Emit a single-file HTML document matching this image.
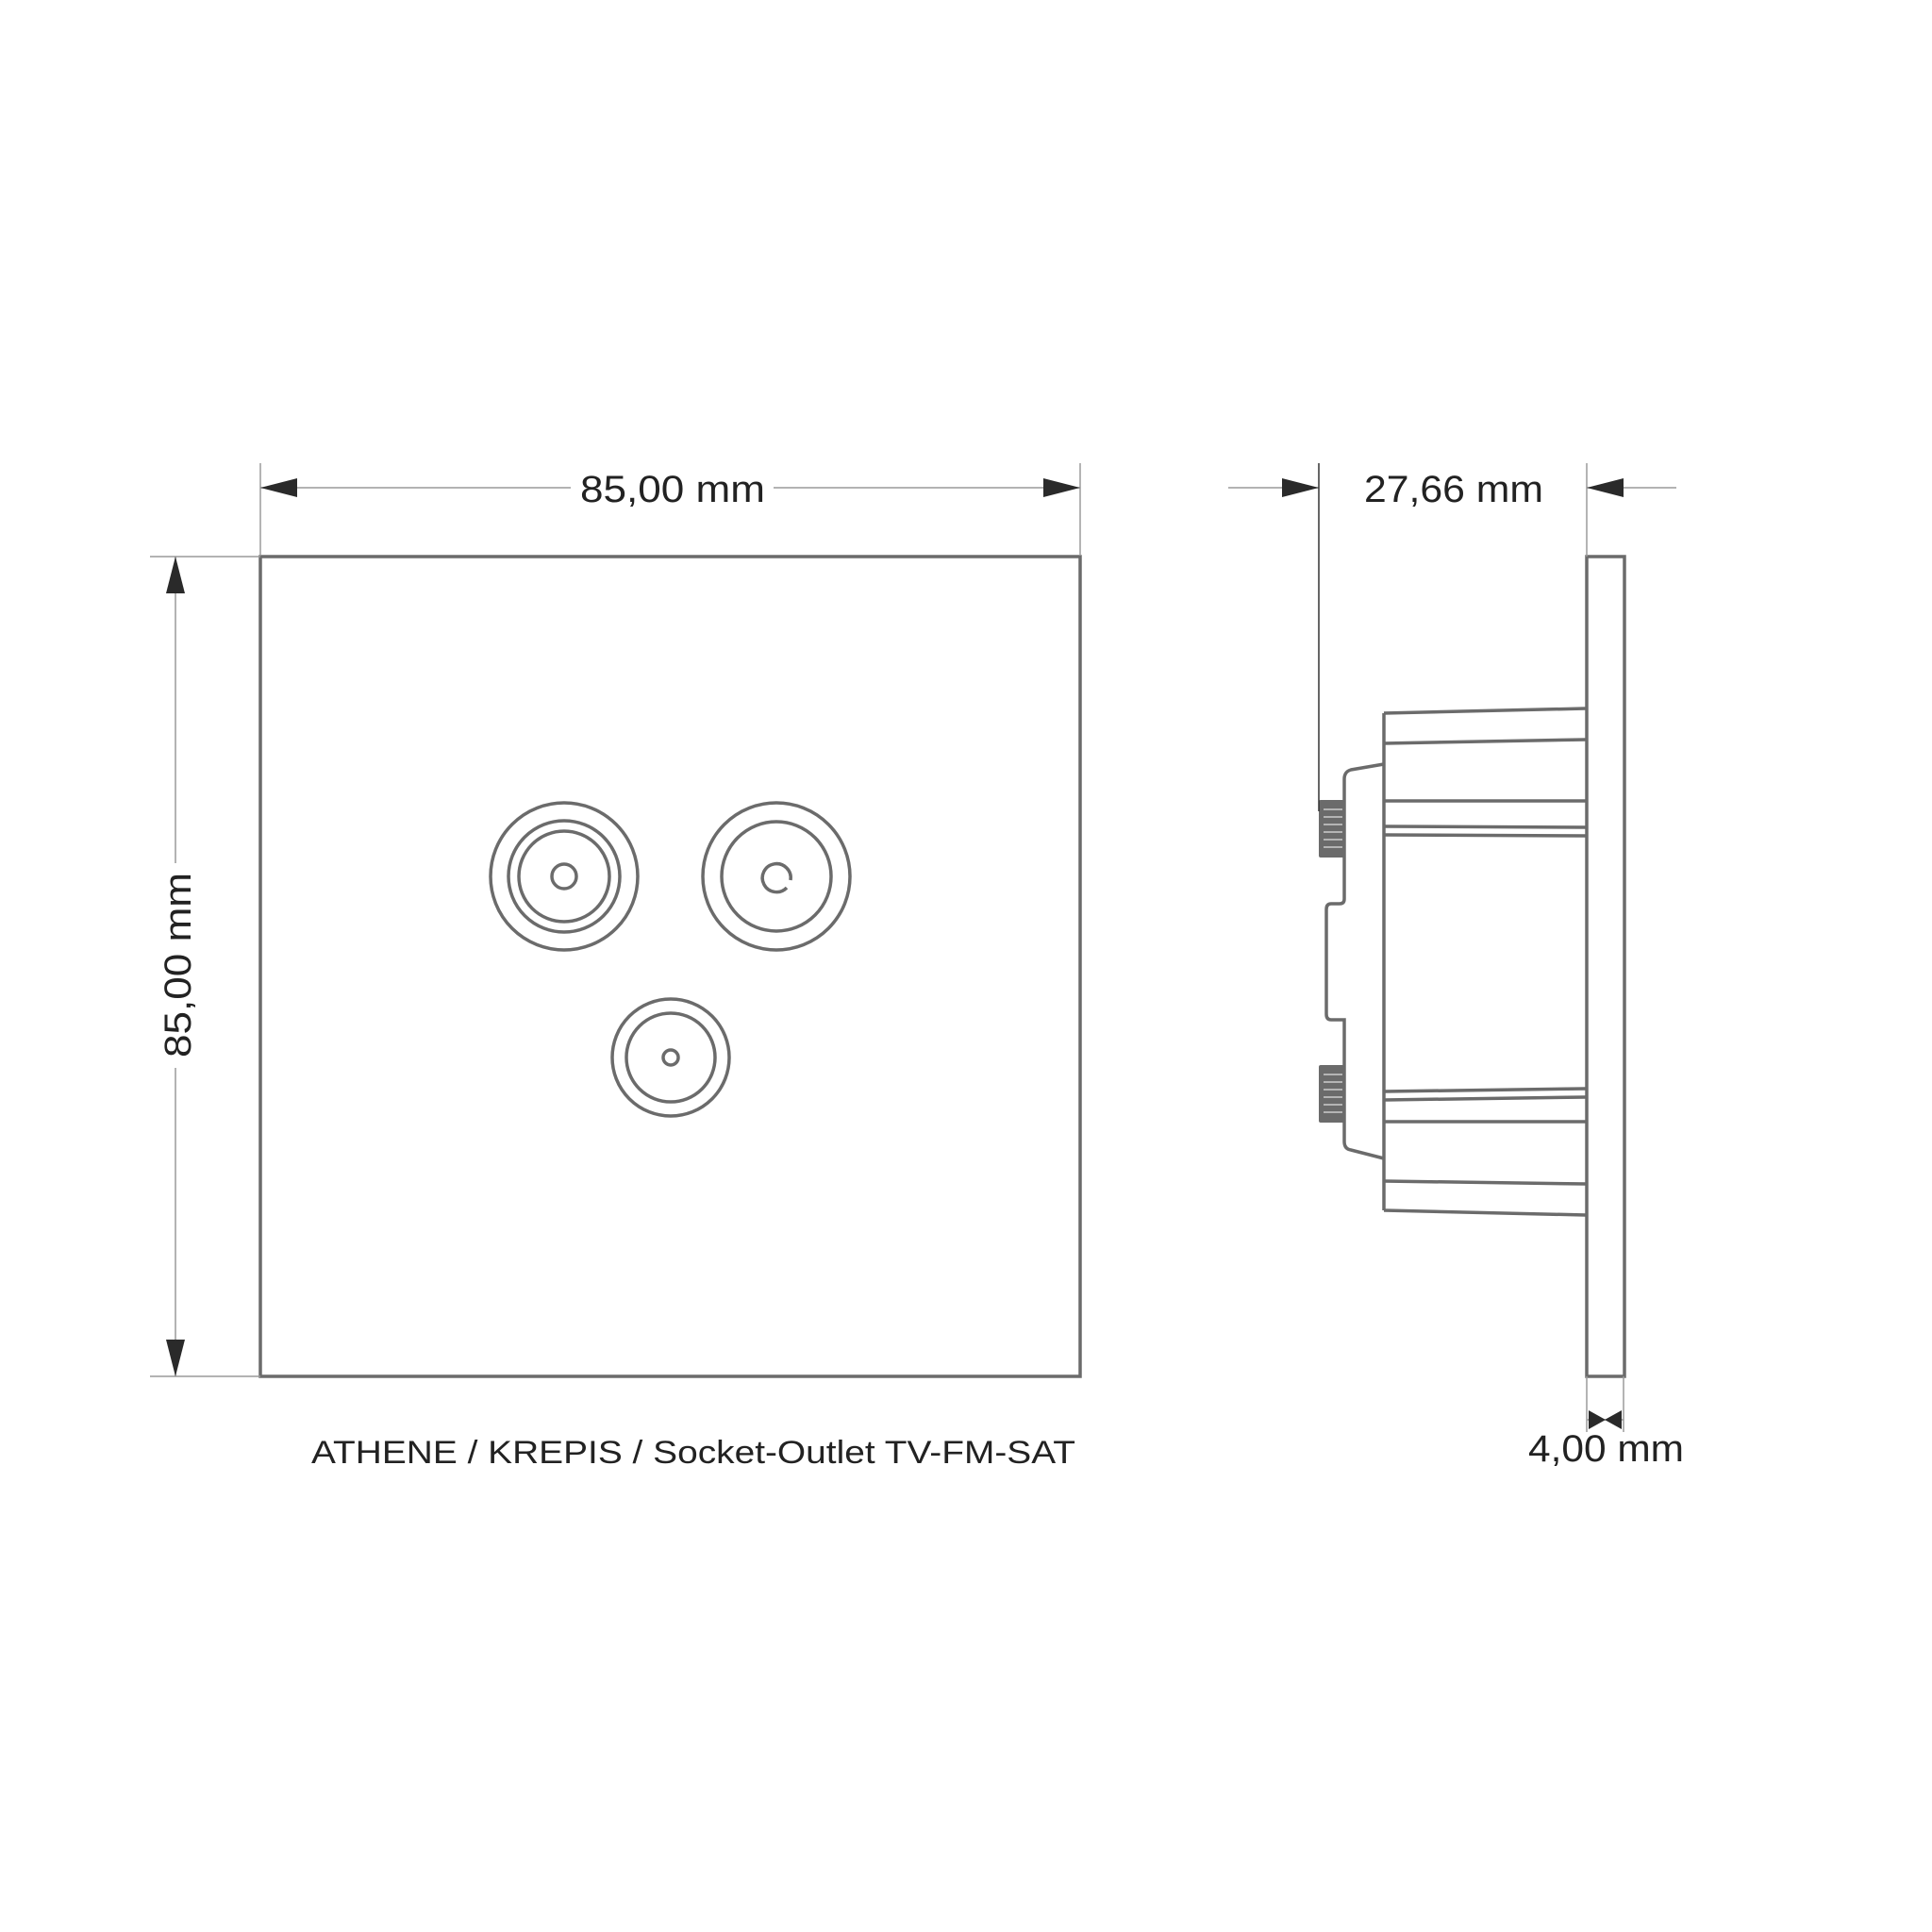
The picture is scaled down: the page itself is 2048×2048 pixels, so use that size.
<!DOCTYPE html>
<html><head><meta charset="utf-8"><style>html,body{margin:0;padding:0;background:#fff}svg{display:block}</style></head>
<body>
<svg width="2048" height="2048" viewBox="0 0 2048 2048" xmlns="http://www.w3.org/2000/svg">
<rect width="2048" height="2048" fill="#fff"/>
<g fill="none" stroke="#6b6b6b" stroke-width="3.5">
<rect x="276" y="590" width="869" height="869"/>
<circle cx="598" cy="929" r="78"/><circle cx="598" cy="929" r="59"/><circle cx="598" cy="929" r="48"/><circle cx="598" cy="929" r="13"/>
<circle cx="823" cy="929" r="78"/><circle cx="823" cy="929" r="58"/>
<path d="M 834 941 A 15 15 0 1 1 838 933" />
<circle cx="711" cy="1121" r="62"/><circle cx="711" cy="1121" r="47"/><circle cx="711" cy="1121" r="8"/>
<!-- side view -->
<rect x="1682" y="590" width="40" height="869"/>
<line x1="1467" y1="756" x2="1467" y2="1283"/>
<line x1="1467" y1="756" x2="1681" y2="751"/>
<line x1="1467" y1="788" x2="1681" y2="784"/>
<line x1="1467" y1="849" x2="1681" y2="849"/>
<line x1="1467" y1="876" x2="1681" y2="877"/>
<line x1="1467" y1="885" x2="1681" y2="886"/>
<line x1="1467" y1="1157" x2="1681" y2="1154"/>
<line x1="1467" y1="1166" x2="1681" y2="1163"/>
<line x1="1467" y1="1189" x2="1681" y2="1189"/>
<line x1="1467" y1="1252" x2="1681" y2="1255"/>
<line x1="1467" y1="1283" x2="1681" y2="1288"/>
<path d="M1467 810 L1432 816 Q1425 818 1425 826 L1425 953 Q1425 958 1420 958 L1411 958 Q1406 958 1406 964 L1406 1075 Q1406 1081 1411 1081 L1425 1081 L1425 1210 Q1425 1218 1432 1219 L1467 1228"/>
</g>
<g fill="#6b6b6b">
<rect x="1398" y="848" width="27" height="61" rx="2"/>
<rect x="1398" y="1129" width="27" height="61" rx="2"/>
</g>
<g stroke="#ccc" stroke-width="1.5">
<line x1="1403" y1="858" x2="1423" y2="858"/><line x1="1403" y1="866" x2="1423" y2="866"/><line x1="1403" y1="874" x2="1423" y2="874"/><line x1="1403" y1="882" x2="1423" y2="882"/><line x1="1403" y1="890" x2="1423" y2="890"/><line x1="1403" y1="898" x2="1423" y2="898"/>
<line x1="1403" y1="1139" x2="1423" y2="1139"/><line x1="1403" y1="1147" x2="1423" y2="1147"/><line x1="1403" y1="1155" x2="1423" y2="1155"/><line x1="1403" y1="1163" x2="1423" y2="1163"/><line x1="1403" y1="1171" x2="1423" y2="1171"/><line x1="1403" y1="1179" x2="1423" y2="1179"/>
</g>
<!-- dimension lines -->
<g stroke="#9a9a9a" stroke-width="1.5" fill="none">
<line x1="276" y1="491" x2="276" y2="589"/><line x1="1145" y1="491" x2="1145" y2="589"/>
<line x1="276" y1="517" x2="605" y2="517"/><line x1="820" y1="517" x2="1145" y2="517"/>
<line x1="159" y1="590" x2="276" y2="590"/><line x1="159" y1="1459" x2="276" y2="1459"/>
<line x1="186" y1="590" x2="186" y2="915"/><line x1="186" y1="1132" x2="186" y2="1459"/>
<line x1="1302" y1="517" x2="1398" y2="517"/><line x1="1682" y1="517" x2="1777" y2="517"/>
<line x1="1682" y1="491" x2="1682" y2="590"/>
<line x1="1682" y1="1459" x2="1682" y2="1518"/><line x1="1721" y1="1459" x2="1721" y2="1518"/>
<line x1="1682" y1="1505" x2="1721" y2="1505"/>
</g>
<line x1="1398" y1="491" x2="1398" y2="860" stroke="#333" stroke-width="1.5"/>
<g fill="#2a2a2a">
<polygon points="276,517 315,507 315,527"/>
<polygon points="1145,517 1106,507 1106,527"/>
<polygon points="186,590 176,629 196,629"/>
<polygon points="186,1459 176,1420 196,1420"/>
<polygon points="1398,517 1359,507 1359,527"/>
<polygon points="1682,517 1721,507 1721,527"/>
<polygon points="1702,1505 1684,1495 1684,1515"/>
<polygon points="1701,1505 1719,1495 1719,1515"/>
</g>
<g font-family="Liberation Sans, sans-serif" fill="#222" font-size="40">
<text x="713" y="532" text-anchor="middle" textLength="196" lengthAdjust="spacingAndGlyphs">85,00 mm</text>
<text x="0" y="0" text-anchor="middle" textLength="196" lengthAdjust="spacingAndGlyphs" transform="translate(202,1023) rotate(-90)">85,00 mm</text>
<text x="1446" y="532" textLength="190" lengthAdjust="spacingAndGlyphs">27,66 mm</text>
<text x="1620" y="1549" textLength="165" lengthAdjust="spacingAndGlyphs">4,00 mm</text>
<text x="330" y="1551" font-size="34" textLength="810" lengthAdjust="spacingAndGlyphs">ATHENE / KREPIS / Socket-Outlet TV-FM-SAT</text>
</g>
</svg>
</body></html>
